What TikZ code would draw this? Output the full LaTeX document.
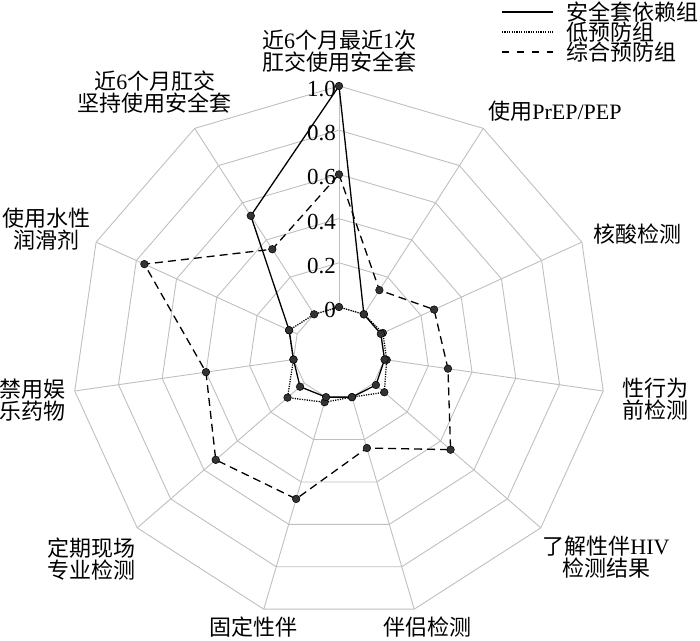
\documentclass[tikz,border=0pt]{standalone}
\usepackage{fontspec}
\setmainfont{Liberation Serif}
\newfontfamily\zh{Noto Sans CJK SC}
\newcommand{\lat}[1]{{\rmfamily #1}}
\tikzset{
  gridline/.style={draw=black!25, line width=0.9pt},
  condline/.style={line width=1.3pt},
  lowline/.style={line width=1.3pt, dash pattern=on 1.2pt off 1.2pt},
  combline/.style={line width=1.3pt, dash pattern=on 8pt off 5pt},
  legdash/.style={line width=1.3pt, dash pattern=on 7pt off 8pt},
  dot/.style={fill=black!80, draw=black, line width=0.5pt},
  axlabel/.style={font=\zh\fontsize{22}{22}\selectfont, align=center, inner sep=0pt},
  ticklabel/.style={font=\fontsize{23}{23}\selectfont, anchor=east, inner sep=0pt}
}
\begin{document}
\begin{tikzpicture}[x=1pt, y=1pt]
	\useasboundingbox (-339,-287) rectangle (361,353);
	% grid rings and spokes
	\foreach \r in {46,90.2,134.4,178.6,222.8,267}
		\draw[gridline] (90:\r) \foreach \k in {1,...,10}{ -- ({90-\k*360/11}:\r)} -- cycle;
	\foreach \k in {0,...,10}
		\draw[gridline] ({90-\k*360/11}:46) -- ({90-\k*360/11}:267);
	% scale
	\foreach \v/\r in {0/46,0.2/90.2,0.4/134.4,0.6/178.6,0.8/222.8,1.0/267}
		\node[ticklabel] (tick\v) at (-3,\r-3) {\v};
	% series
	\foreach \v [count=\k from 0] in {0.6,0.13,0.265,0.29,0.46,0.24,0.48,0.53,0.40,0.76,0.35}
		\coordinate (comb\k) at ({90-(\k)*360/11}:{46+221*\v});
	\foreach \v [count=\k from 0] in {0,0,0.01,0.01,0.063,0,0.024,0.10,0,0.04,0}
		\coordinate (low\k) at ({90-(\k)*360/11}:{46+221*\v});
	\foreach \v [count=\k from 0] in {1.0,0,0,0,0.013,0,0,0.025,0,0.04,0.53}
		\coordinate (cond\k) at ({90-(\k)*360/11}:{46+221*\v});
	\draw[combline] (comb0) \foreach \k in {1,...,10}{ -- (comb\k)} -- cycle;
	\draw[lowline] (low0) \foreach \k in {1,...,10}{ -- (low\k)} -- cycle;
	\draw[condline] (cond0) \foreach \k in {1,...,10}{ -- (cond\k)} -- cycle;
	\foreach \k in {0,...,10}{
		\draw[dot] (comb\k) circle (3.8);
		\draw[dot] (low\k) circle (3.8);
		\draw[dot] (cond\k) circle (3.8);
	}
	% axis labels
	\node[axlabel] (ax0) at (0,302) {近\lat{6}个月最近\lat{1}次\\肛交使用安全套};
	\node[axlabel] (ax1) at (216,242) {使用\lat{PrEP/PEP}};
	\node[axlabel] (ax2) at (298,119) {核酸检测};
	\node[axlabel] (ax3) at (316,-46) {性行为\\前检测};
	\node[axlabel] (ax4) at (267,-204) {了解性伴\lat{HIV}\\检测结果};
	\node[axlabel] (ax5) at (88,-274) {伴侣检测};
	\node[axlabel] (ax6) at (-85,-274) {固定性伴};
	\node[axlabel] (ax7) at (-247,-206) {定期现场\\专业检测};
	\node[axlabel] (ax8) at (-306,-47) {禁用娱\\乐药物};
	\node[axlabel] (ax9) at (-292,124) {使用水性\\润滑剂};
	\node[axlabel] (ax10) at (-184,261) {近\lat{6}个月肛交\\坚持使用安全套};
	% legend
	\node[axlabel, anchor=west] (leg1) at (227,341) {安全套依赖组};
	\node[axlabel, anchor=west] (leg2) at (227,321) {低预防组};
	\node[axlabel, anchor=west] (leg3) at (227,301) {综合预防组};
	\coordinate (leg1a) at (163,341); \coordinate (leg1b) at (214,341);
	\coordinate (leg2a) at (163,321); \coordinate (leg2b) at (214,321);
	\coordinate (leg3a) at (163,301); \coordinate (leg3b) at (214,301);
	\draw[condline] (leg1a) -- (leg1b);
	\draw[lowline] (leg2a) -- (leg2b);
	\draw[legdash] (leg3a) -- (leg3b);
\end{tikzpicture}
\end{document}
